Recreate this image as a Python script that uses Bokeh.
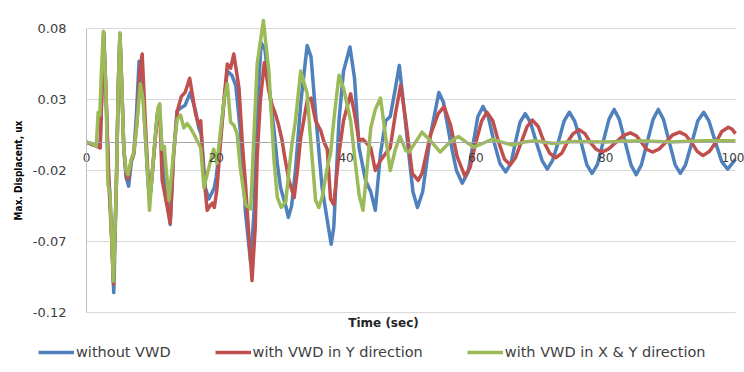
from bokeh.plotting import figure
from bokeh.models import Legend, LegendItem, FixedTicker, Label, Range1d
from bokeh.embed import file_html
from bokeh.resources import INLINE

# ---- data ----
blue_t = [0, 1.0, 1.8, 2.1, 2.4, 2.65, 3.0, 3.4, 3.6, 3.9, 4.2, 4.6, 4.9, 5.15, 5.4, 5.75, 6.1, 6.5, 6.9, 7.3,
          7.7, 8.1, 8.5, 9.0, 9.5, 9.8, 10.4, 10.9, 11.3, 11.7, 12.2, 12.9, 13.4, 13.95, 14.5, 15.2, 16.0, 16.8,
          17.3, 17.7, 18.3, 18.85, 19.3, 19.7, 20.0, 20.6, 21.2, 21.7, 22.4, 23.0, 23.7, 24.5, 25.3, 25.8, 26.3,
          26.9, 27.5, 28.1, 28.9, 29.4, 29.9, 30.7, 31.1, 31.6, 32.2, 33.0, 34.0, 34.6, 35.3, 36.3, 37.1, 37.7,
          38.1, 38.9, 39.6, 40.6, 41.3, 42.0, 43.0, 43.8, 44.5, 45.3, 46.1, 46.8, 47.6, 48.2, 48.9, 49.7, 50.3,
          51.0, 51.8, 53.0, 54.3, 55.0, 56.1, 57.0, 57.9, 58.8, 59.7, 60.3, 61.1, 61.9, 62.8, 63.7, 64.6, 65.4,
          66.1, 66.8, 67.6, 68.4, 69.3, 70.2, 71.0, 71.8, 72.7, 73.6, 74.4, 75.2, 76.2, 77.1, 77.9, 78.7, 79.6,
          80.5, 81.3, 82.1, 83.0, 83.9, 84.7, 85.5, 86.4, 87.3, 88.1, 88.9, 89.8, 90.7, 91.5, 92.3, 93.3, 94.2,
          95.1, 95.9, 96.9, 97.9, 98.8, 99.5, 100]
blue_y = [0, -0.002, -0.001, -0.004, 0.04, 0.077, 0.035, -0.025, -0.035, -0.07, -0.106, -0.03, 0.04, 0.076, 0.045,
          -0.005, -0.025, -0.031, -0.014, -0.008, 0.02, 0.057, 0.055, 0.01, -0.03, -0.038, -0.008, 0.02, 0.021,
          -0.01, -0.035, -0.058, -0.01, 0.022, 0.024, 0.026, 0.035, 0.022, 0.01, 0.005, -0.032, -0.04, -0.036,
          -0.032, -0.024, 0.0, 0.03, 0.05, 0.047, 0.04, 0.008, -0.05, -0.085, -0.05, 0.02, 0.07, 0.065, 0.04,
          0.008, -0.015, -0.032, -0.045, -0.053, -0.045, -0.02, 0.027, 0.068, 0.06, 0.02, -0.032, -0.055, -0.072,
          -0.06, 0.015, 0.05, 0.067, 0.045, -0.004, -0.027, -0.035, -0.048, -0.008, 0.015, 0.018, 0.038, 0.054,
          0.025, -0.01, -0.035, -0.046, -0.035, 0.005, 0.035, 0.028, 0.0, -0.02, -0.029, -0.021, 0.002, 0.018,
          0.025, 0.018, 0.0, -0.015, -0.021, -0.015, 0.0, 0.014, 0.020, 0.014, 0.0, -0.013, -0.019, -0.013, 0.0,
          0.015, 0.021, 0.015, 0.0, -0.016, -0.022, -0.016, 0.0, 0.016, 0.023, 0.016, 0.0, -0.016, -0.023, -0.016,
          0.0, 0.016, 0.023, 0.016, 0.0, -0.016, -0.022, -0.016, 0.0, 0.015, 0.021, 0.015, 0.0, -0.014, -0.019,
          -0.015, -0.012]

red_t = [0, 1.0, 2.1, 2.4, 2.65, 3.0, 3.5, 3.9, 4.15, 4.6, 4.9, 5.15, 5.4, 5.75, 6.1, 6.4, 6.9, 7.3, 7.8, 8.2,
         8.58, 9.0, 9.5, 9.9, 10.4, 10.9, 11.3, 11.66, 12.2, 12.9, 13.4, 14.0, 14.6, 15.2, 15.9, 16.8, 17.3, 17.6,
         18.0, 18.6, 19.0, 19.4, 19.7, 20.1, 20.65, 21.2, 21.7, 22.2, 22.7, 23.5, 24.0, 24.5, 25.0, 25.5, 26.0,
         26.3, 26.8, 27.4, 28.1, 28.6, 29.1, 29.6, 30.1, 30.6, 31.2, 32.0, 32.5, 33.0, 34.0, 34.6, 35.3, 36.1,
         36.6, 37.1, 37.6, 38.1, 38.9, 39.6, 40.7, 41.3, 42.0, 42.6, 43.0, 43.8, 44.5, 45.3, 46.1, 46.8, 47.6,
         48.4, 49.2, 50.2, 51.1, 51.7, 53.0, 54.2, 55.1, 56.1, 57.1, 58.3, 59.1, 60.0, 60.9, 61.7, 62.6, 63.5,
         64.4, 65.3, 66.1, 67.0, 67.9, 68.7, 69.6, 70.5, 71.4, 72.3, 73.2, 74.1, 75.0, 75.9, 76.8, 77.6, 78.5,
         79.4, 80.4, 81.6, 82.7, 83.8, 84.7, 85.5, 86.3, 87.2, 88.2, 89.3, 90.3, 91.4, 92.3, 93.2, 94.1, 95.0,
         96.0, 97.0, 97.9, 98.9, 99.5, 100]
red_y = [0, -0.002, -0.004, 0.04, 0.077, 0.035, -0.034, -0.07, -0.1, -0.03, 0.04, 0.076, 0.045, -0.005, -0.022,
         -0.026, -0.013, -0.008, 0.015, 0.05, 0.062, 0.02, -0.025, -0.035, -0.008, 0.018, 0.02, -0.027, -0.04,
         -0.057, -0.01, 0.022, 0.032, 0.035, 0.045, 0.02, 0.012, 0.015, -0.02, -0.048, -0.045, -0.043, -0.046,
         -0.033, 0.0, 0.03, 0.055, 0.052, 0.062, 0.038, 0.0, -0.03, -0.065, -0.0975, -0.06, -0.01, 0.03, 0.056,
         0.036, 0.026, 0.02, 0.012, 0.002, -0.012, -0.027, -0.039, -0.02, 0.003, 0.029, 0.031, 0.015, 0.008, 0.0,
         -0.005, -0.04, -0.044, -0.008, 0.015, 0.034, 0.02, 0.001, 0.002, 0.0, -0.004, -0.02, -0.013, -0.008,
         -0.004, 0.02, 0.04, 0.015, -0.022, -0.027, -0.022, 0.005, 0.02, 0.025, 0.012, -0.01, -0.024, -0.018,
         0.0, 0.015, 0.021, 0.015, 0.0, -0.012, -0.016, -0.011, 0.0, 0.011, 0.0155, 0.011, 0.0, -0.008, -0.011,
         -0.008, 0.0, 0.006, 0.0088, 0.006, 0.0, -0.005, -0.007, -0.005, 0.0, 0.0045, 0.0065, 0.0045, 0.0, -0.005,
         -0.007, -0.005, 0.0, 0.005, 0.007, 0.005, 0.0, -0.0065, -0.0095, -0.0065, 0.0, 0.0075, 0.0105, 0.009,
         0.006]

green_t = [0, 0.8, 1.5, 1.8, 2.05, 2.3, 2.6, 3.0, 3.3, 3.6, 3.9, 4.15, 4.6, 4.9, 5.15, 5.4, 5.75, 6.1, 6.4, 6.9,
           7.3, 7.7, 8.3, 8.7, 9.2, 9.7, 10.4, 11.0, 11.3, 11.6, 12.0, 12.2, 12.7, 13.45, 13.97, 14.5, 15.0, 15.5,
           16.0, 16.5, 17.05, 17.6, 18.1, 18.85, 19.6, 20.1, 20.65, 21.2, 21.7, 22.2, 22.7, 23.2, 23.7, 24.5, 25.3,
           25.8, 26.3, 27.25, 28.1, 28.35, 28.9, 29.4, 30.0, 30.7, 31.2, 31.7, 32.2, 33.0, 34.0, 34.5, 35.3, 35.8,
           36.3, 37.1, 37.6, 38.1, 38.9, 39.6, 40.7, 41.3, 42.0, 42.6, 43.2, 43.8, 44.5, 45.3, 46.1, 46.8, 47.6,
           48.3, 49.2, 49.7, 50.7, 51.7, 53.0, 54.5, 56.0, 57.3, 58.5, 59.7, 61.0, 62.5, 64.0, 65.5, 67.5, 69.0,
           72.0, 75.0, 80.0, 85.0, 90.0, 95.0, 100]
green_y = [0, -0.001, -0.003, 0.021, 0.019, 0.05, 0.078, 0.035, -0.03, -0.035, -0.07, -0.098, -0.03, 0.04, 0.077,
           0.045, -0.005, -0.02, -0.023, -0.012, -0.007, 0.01, 0.041, 0.03, -0.005, -0.048, -0.006, 0.024, 0.027,
           -0.005, -0.003, -0.015, -0.041, -0.006, 0.016, 0.019, 0.01, 0.013, 0.01, 0.006, 0.001, -0.004, -0.032,
           -0.018, -0.005, -0.015, 0.008, 0.03, 0.041, 0.014, 0.012, 0.006, -0.018, -0.044, -0.047, 0.005, 0.055,
           0.0856, 0.05, 0.029, -0.013, -0.039, -0.046, -0.042, -0.02, 0.0, 0.015, 0.05, 0.034, 0.0035, -0.041,
           -0.046, -0.039, -0.018, -0.008, 0.015, 0.047, 0.038, 0.015, -0.01, -0.037, -0.048, -0.02, 0.01, 0.023,
           0.031, 0.0035, -0.02, -0.005, 0.004, -0.006, -0.007, 0.0, 0.007, 0.001, -0.007, 0.0, 0.004, 0.0,
           -0.0036, -0.001, 0.002, 0.0, -0.002, 0.0, 0.001, -0.001, 0.0005, 0.0, 0.001, 0.0, 0.001, 0.001]

series_names = ["without VWD", "with VWD in Y direction", "with VWD in X & Y direction"]
series_colors = ["#4f81bd", "#c0504d", "#9bbb59"]
x_ticks = [0, 20, 40, 60, 80, 100]
y_ticks = [-0.12, -0.07, -0.02, 0.03, 0.08]
y_tick_labels = ["-0.12", "-0.07", "-0.02", "0.03", "0.08"]
x_title = "Time (sec)"
y_title = "Max. Displacent, ux"

X_MIN, X_MAX = 0, 100
Y_MIN, Y_MAX = -0.12, 0.08

# ---- layout geometry (pixels) ----
W, H = 744, 372
LEFT, RIGHT, TOP, BOTTOM = 86, 735, 28, 312
xs = (X_MAX - X_MIN) / (RIGHT - LEFT)
ys = (Y_MAX - Y_MIN) / (BOTTOM - TOP)
x_range = Range1d(X_MIN - LEFT * xs, X_MAX + (W - RIGHT) * xs)
y_range = Range1d(Y_MIN - (H - BOTTOM) * ys, Y_MAX + TOP * ys)

FONT = "DejaVu Sans"

p = figure(width=W, height=H, output_backend="svg", toolbar_location=None,
           x_range=x_range, y_range=y_range,
           min_border_left=0, min_border_right=0, min_border_top=0, min_border_bottom=0)
p.outline_line_color = None

# horizontal gridlines limited to the plot area
g = p.ygrid[0]
g.ticker = FixedTicker(ticks=y_ticks)
g.grid_line_color = "#d9d9d9"
g.grid_line_width = 1
if "cross_bounds" in g.properties():
    g.cross_bounds = (X_MIN, X_MAX)
else:
    g.visible = False
    p.segment(x0=[X_MIN] * len(y_ticks), x1=[X_MAX] * len(y_ticks), y0=y_ticks, y1=y_ticks,
              line_color="#d9d9d9", line_width=1)
p.xgrid.visible = False

rb = p.line(blue_t, blue_y, line_color=series_colors[0], line_width=3.5, line_join="round")
rr = p.line(red_t, red_y, line_color=series_colors[1], line_width=3.5, line_join="round")
rg = p.line(green_t, green_y, line_color=series_colors[2], line_width=3.5, line_join="round")

# x axis crossing at y = 0
xa = p.xaxis[0]
xa.fixed_location = 0
xa.bounds = (X_MIN, X_MAX)
xa.ticker = FixedTicker(ticks=x_ticks)
xa.major_tick_line_color = None
xa.minor_tick_line_color = None
xa.axis_line_color = "#a6a6a6"
xa.major_label_standoff = 5
xa.major_label_text_font = FONT
xa.major_label_text_font_size = "12px"
xa.major_label_text_color = "#404040"

# y axis at x = 0
ya = p.yaxis[0]
ya.fixed_location = X_MIN
ya.bounds = (Y_MIN, Y_MAX)
ya.ticker = FixedTicker(ticks=y_ticks)
ya.major_label_overrides = {t: l for t, l in zip(y_ticks, y_tick_labels)}
ya.major_tick_line_color = None
ya.minor_tick_line_color = None
ya.axis_line_color = "#bfbfbf"
ya.major_label_standoff = 14
ya.major_label_text_font = FONT
ya.major_label_text_font_size = "13px"
ya.major_label_text_color = "#404040"
ya.axis_label = y_title
ya.axis_label_text_font = "DejaVu Sans Condensed, DejaVu Sans"
ya.axis_label_text_font_style = "bold"
ya.axis_label_text_font_size = "10px"
ya.axis_label_text_color = "#000000"
ya.axis_label_standoff = 6

p.add_layout(Label(x=383, y=H - 322, x_units="screen", y_units="screen", text=x_title,
                   text_align="center", text_baseline="middle", text_font=FONT,
                   text_font_style="bold", text_font_size="12px", text_color="#262626"))

legend = Legend(items=[LegendItem(label=n, renderers=[r]) for n, r in zip(series_names, [rb, rr, rg])],
                orientation="horizontal", location=(38, H - 362),
                border_line_color=None, background_fill_alpha=0,
                padding=0, margin=0, spacing=44, glyph_width=36, glyph_height=14,
                label_standoff=2, label_text_font=FONT, label_text_font_size="14.5px",
                label_text_color="#404040", label_height=20)
p.add_layout(legend)

open("out.html", "w").write(file_html(p, INLINE))
